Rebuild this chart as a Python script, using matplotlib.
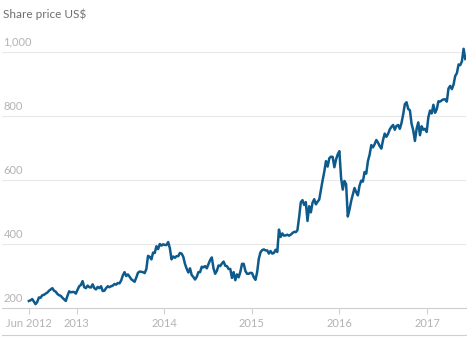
import matplotlib
matplotlib.use("Agg")
import matplotlib.pyplot as plt
from matplotlib.lines import Line2D
from matplotlib.transforms import blended_transform_factory, offset_copy
import pandas as pd

title = "Share price US$"
start_date = "2012-06-15"   # weekly (Friday) closes from this date

prices_2012 = [222, 224, 228, 220, 212, 219, 233, 232, 240, 241,
               245, 248, 254, 258, 262, 254, 251, 244, 240, 238,
               232, 227, 222, 238, 252, 249, 250, 250, 245]
prices_2013 = [257, 268, 272, 284, 265, 262, 270, 265, 264, 274,
               262, 258, 266, 262, 268, 253, 254, 262, 268, 265,
               268, 270, 275, 273, 278, 277, 286, 302, 312, 300,
               305, 298, 290, 286, 282, 295, 310, 314, 313, 312,
               309, 322, 363, 360, 352, 373, 372, 393, 384, 400,
               395, 399]
prices_2014 = [397, 397, 406, 387, 352, 361, 357, 362, 362, 372,
               370, 360, 338, 323, 311, 324, 303, 297, 289, 297,
               312, 312, 329, 327, 331, 324, 337, 350, 358, 324,
               307, 316, 333, 331, 339, 345, 332, 331, 322, 322,
               294, 312, 287, 305, 296, 313, 338, 338, 316, 307,
               307, 310]
prices_2015 = [309, 296, 288, 312, 354, 374, 381, 383, 380, 380,
               370, 378, 370, 372, 382, 375, 445, 422, 433, 426,
               427, 429, 426, 429, 434, 438, 437, 443, 483, 530,
               537, 522, 531, 472, 518, 499, 529, 540, 524, 532,
               539, 570, 599, 626, 659, 642, 668, 673, 672, 640,
               664, 680]
prices_2016 = [690, 607, 570, 597, 587, 486, 507, 534, 555, 575,
               562, 552, 582, 598, 595, 625, 620, 659, 679, 709,
               702, 712, 725, 717, 706, 698, 725, 745, 735, 744,
               758, 766, 772, 757, 769, 772, 760, 778, 805, 837,
               843, 822, 818, 776, 755, 722, 760, 780, 740, 768,
               757, 760, 750]
prices_2017 = [796, 817, 808, 835, 810, 821, 846, 845, 849, 852,
               852, 845, 886, 894, 884, 898, 925, 934, 961, 959,
               971, 1010, 978]

y_ticks = [200, 400, 600, 800, 1000]
y_tick_labels = ["200", "400", "600", "800", "1,000"]
x_tick_labels = ["Jun 2012", "2013", "2014", "2015", "2016", "2017"]
x_tick_dates = ["2012-06-15", "2013-01-01", "2014-01-01", "2015-01-01",
                "2016-01-01", "2017-01-01"]

prices = prices_2012 + prices_2013 + prices_2014 + prices_2015 + prices_2016 + prices_2017
dates = pd.date_range(start_date, periods=len(prices), freq="W-FRI")

LINE = "#0d5a8c"
GRID = "#e9e9e9"
AXIS = "#cfcfcf"
TICKTXT = "#b3b3b3"
TITLE = "#6e6e6e"
FONT = ["Lato", "DejaVu Sans"]
plt.rcParams["font.family"] = FONT

W, H = 472, 344
fig = plt.figure(figsize=(W / 100, H / 100), dpi=100)
fig.patch.set_facecolor("white")

left_px, right_px = 2, 466
bottom_px = 308          # y=200
top_val_px = 52          # y=1000
px_per_unit = (bottom_px - top_val_px) / 800.0
ymax = 1032
top_px = bottom_px - (ymax - 200) * px_per_unit
ax = fig.add_axes([left_px / W, 1 - bottom_px / H, (right_px - left_px) / W,
                   (bottom_px - top_px) / H])
ax.set_facecolor("white")

ax.plot(dates, prices, color=LINE, lw=1.8, solid_joinstyle="round", zorder=3)

ax.set_ylim(200, ymax)
ax.set_xlim(pd.Timestamp("2012-02-24"), pd.Timestamp("2017-06-12"))

for s in ["top", "right", "left"]:
    ax.spines[s].set_visible(False)
ax.spines["bottom"].set_color(AXIS)
ax.spines["bottom"].set_linewidth(0.8)

ax.set_yticks(y_ticks)
ax.set_yticklabels([])
ax.tick_params(axis="y", length=0)
for v in y_ticks[1:]:
    ax.axhline(v, color=GRID, lw=0.8, zorder=1)

trans = offset_copy(blended_transform_factory(ax.transAxes, ax.transData),
                    fig=fig, x=1, y=3, units="points")
for v, lab in zip(y_ticks, y_tick_labels):
    ax.text(0.0, v, lab, transform=trans, ha="left", va="bottom",
            fontsize=8, color=TICKTXT)

ax.set_xticks([pd.Timestamp(d) for d in x_tick_dates])
ax.set_xticklabels(x_tick_labels, fontsize=8, color=TICKTXT)
ax.tick_params(axis="x", length=4, width=0.8, color=AXIS, pad=3)

fig.text(3 / W, 1 - 14 / H, title, ha="left", va="center", fontsize=8.5, color=TITLE)

fig.add_artist(Line2D([2 / W, 466 / W], [1 - 335 / H, 1 - 335 / H],
                      color=AXIS, lw=0.8, transform=fig.transFigure))

fig.savefig("out.png", dpi=100, facecolor="white")
